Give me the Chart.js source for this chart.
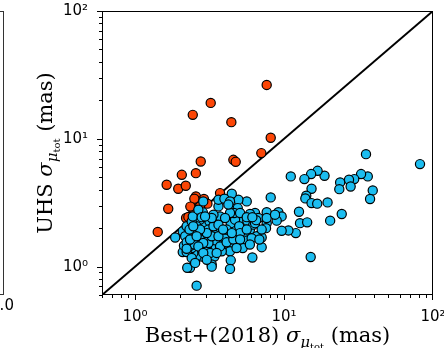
<!DOCTYPE html>
<html>
<head>
<meta charset="utf-8">
<script src="https://cdn.jsdelivr.net/npm/chart.js@4.4.0/dist/chart.umd.min.js"></script>
<style>
  html, body { margin: 0; padding: 0; background: #fff; }
</style>
</head>
<body>
<canvas id="chart" width="444" height="348"></canvas>
<script>
// decade ticks and their labels
const tickValues = [1, 10, 100];
const tickLabels = ['10\u2070', '10\u00b9', '10\u00b2'];

// points above the 1:1 line
const orangeX = [7.65, 3.22, 2.44, 4.43, 8.14, 7.04, 4.57, 4.74, 2.76, 2.56, 2.06, 1.63, 1.95, 2.19,
  1.67, 1.42, 3.72, 2.56, 2.90, 2.59, 3.06, 2.42, 2.73, 2.20, 2.28, 2.50, 2.35];
const orangeY = [26.4, 19.1, 15.4, 13.5, 10.2, 7.73, 6.85, 6.61, 6.65, 5.39, 5.23, 4.37, 4.07, 4.29,
  2.84, 1.87, 3.76, 3.54, 3.38, 3.28, 3.11, 2.87, 2.96, 2.40, 2.45, 3.40, 2.95];

// points below the 1:1 line
const blueX = [81.8, 35.5, 39.4, 37.8, 36.5, 32.9, 29.6, 27.3, 28.0, 23.8, 23.5, 24.4, 20.4, 19.6,
  18.7, 16.8, 15.2, 13.7, 15.3, 14.1, 13.9, 15.3, 16.7, 11.1, 12.6, 12.8, 14.3, 12.0, 10.7, 9.64,
  15.1, 8.14, 9.16, 9.64, 8.93, 7.65, 7.65, 7.57, 7.08, 7.08, 6.13, 6.56, 6.39, 6.73, 5.91, 5.62,
  4.94, 4.46, 4.46, 4.89, 5.12, 5.67, 5.91, 6.22, 5.53, 5.67, 5.28, 4.86, 4.69, 4.39, 4.23, 4.46,
  4.34, 4.39, 4.34, 3.82, 3.88, 4.02, 3.72, 3.53, 3.72, 3.63, 3.63, 3.98, 3.36, 3.44, 3.36, 3.41,
  3.27, 3.27, 3.03, 3.11, 2.95, 2.98, 2.90, 2.85, 2.73, 2.59, 2.46, 2.44, 2.73, 2.70, 2.80, 2.59,
  2.46, 2.40, 2.32, 2.59, 2.34, 2.24, 2.09, 2.22, 2.09, 1.86, 2.22, 2.40, 2.44, 2.66, 2.87, 2.80,
  2.17, 2.32, 2.44, 2.13, 2.50, 2.22, 3.36, 3.16, 3.11, 3.27, 3.63, 4.12, 4.69, 4.62, 5.07, 4.34,
  4.02, 5.00, 6.06, 6.83, 4.34, 4.23, 6.39, 7.08, 7.65, 8.70, 6.50, 3.03, 3.36, 3.72, 2.73, 2.46,
  2.34, 2.87, 3.19, 3.53, 4.12, 4.57, 5.07, 5.62, 5.62, 6.13, 5.07, 4.46, 3.63, 3.27, 2.95, 2.59,
  2.66, 2.87, 2.40, 2.53, 3.90, 4.80, 5.90, 2.22, 3.03];
const blueY = [6.34, 7.59, 3.95, 3.38, 5.08, 5.30, 4.84, 4.78, 4.24, 4.56, 4.04, 2.58, 2.29, 3.18,
  5.14, 5.62, 5.30, 4.84, 4.07, 3.59, 3.42, 3.14, 3.11, 5.08, 2.69, 2.19, 2.22, 1.83, 1.92, 1.91,
  1.19, 3.48, 2.67, 2.47, 2.29, 2.67, 2.19, 2.00, 1.69, 1.42, 1.18, 1.73, 2.63, 2.40, 2.58, 3.24,
  3.34, 3.72, 2.87, 2.87, 2.37, 2.29, 1.95, 2.13, 1.78, 1.60, 1.40, 1.67, 1.95, 2.19, 1.83, 1.49,
  1.32, 1.12, 0.96, 1.32, 1.50, 1.67, 1.95, 2.17, 2.47, 2.96, 3.34, 3.40, 1.80, 1.58, 1.37, 1.20,
  1.04, 1.00, 1.40, 1.53, 1.73, 2.00, 2.22, 2.66, 2.33, 2.07, 1.83, 1.63, 1.63, 1.36, 1.20, 1.20,
  1.28, 1.40, 1.44, 0.71, 0.98, 0.98, 1.30, 1.30, 1.89, 1.69, 2.07, 2.26, 2.47, 2.79, 3.24, 2.44,
  1.73, 1.95, 1.58, 1.46, 1.49, 1.55, 2.55, 2.26, 1.95, 1.73, 1.73, 1.95, 2.33, 2.63, 2.63, 2.63,
  2.40, 2.07, 1.67, 1.63, 3.24, 3.06, 2.19, 1.95, 2.40, 2.55, 2.31, 1.83, 2.07, 1.44, 1.95, 2.07,
  1.63, 1.53, 1.28, 1.28, 1.55, 1.63, 1.83, 1.95, 2.44, 2.44, 1.63, 1.83, 2.13, 2.40, 2.47, 1.73,
  1.44, 1.28, 1.17, 1.07, 1.95, 1.40, 1.49, 1.38, 1.13];

// 1:1 reference line
const lineX = [0.6, 100];
const lineY = [0.6, 100];

const toPoints = (xs, ys) => xs.map((v, i) => ({ x: v, y: ys[i] }));

const SERIF = '"DejaVu Serif"';

// draws a label made of several pieces (for the sub/subscripts)
function drawPieces(ctx, pieces, cx, baseline) {
  let total = 0;
  pieces.forEach(p => { ctx.font = p.f; p.w = ctx.measureText(p.t).width; total += p.w; });
  let x = cx - total / 2;
  ctx.textAlign = 'left';
  ctx.textBaseline = 'alphabetic';
  pieces.forEach(p => {
    ctx.font = p.f;
    ctx.fillText(p.t, x, baseline + p.dy);
    x += p.w;
  });
}

function titlePieces(before) {
  return [
    { t: before, f: '21px ' + SERIF, dy: 0 },
    { t: '\u03c3', f: 'italic 21px ' + SERIF, dy: 0 },
    { t: '\u03bc', f: 'italic 15px ' + SERIF, dy: 5 },
    { t: 'tot', f: '10px ' + SERIF, dy: 8 },
    { t: ' (mas)', f: '21px ' + SERIF, dy: 0 }
  ];
}

const panelPlugin = {
  id: 'panel',
  afterDatasetsDraw(chart) {
    const { ctx, chartArea: a, scales: { x, y } } = chart;
    ctx.save();
    ctx.strokeStyle = '#000';
    ctx.lineWidth = 1;
    ctx.strokeRect(a.left + 0.5, a.top + 0.5, a.right - a.left - 1, a.bottom - a.top - 1);

    // major + minor ticks, outward
    ctx.beginPath();
    [0.1, 1, 10].forEach(d => {
      for (let m = 1; m <= 9; m++) {
        const v = m * d;
        const len = m === 1 ? 5 : 3;
        if (v >= x.min - 1e-9 && v <= x.max + 1e-9) {
          const px = Math.round(x.getPixelForValue(v)) + 0.5;
          ctx.moveTo(px, a.bottom);
          ctx.lineTo(px, a.bottom + len);
        }
        if (v >= y.min - 1e-9 && v <= y.max + 1e-9) {
          const py = Math.round(y.getPixelForValue(v)) + 0.5;
          ctx.moveTo(a.left, py);
          ctx.lineTo(a.left - len, py);
        }
      }
    });
    ctx.moveTo(a.right - 0.5, a.bottom);
    ctx.lineTo(a.right - 0.5, a.bottom + 5);
    ctx.moveTo(a.left, a.top + 0.5);
    ctx.lineTo(a.left - 5, a.top + 0.5);
    ctx.stroke();

    // edge of the neighbouring panel
    ctx.strokeStyle = '#333';
    ctx.strokeRect(-10, a.top + 0.5, 13.5, a.bottom - a.top - 1);
    ctx.fillStyle = '#000';
    ctx.font = '15px "DejaVu Sans"';
    ctx.textAlign = 'center';
    ctx.textBaseline = 'alphabetic';
    ctx.fillText('1.0', 2, 310);

    // axis titles
    ctx.fillStyle = '#000';
    drawPieces(ctx, titlePieces('Best+(2018) '), (a.left + a.right) / 2, 342);
    ctx.translate(52, (a.top + a.bottom) / 2);
    ctx.rotate(-Math.PI / 2);
    drawPieces(ctx, titlePieces('UHS '), 0, 0);
    ctx.restore();
  }
};

const tickOpts = (pad) => ({
  color: '#000',
  font: { family: 'DejaVu Sans', size: 15 },
  autoSkip: false,
  maxRotation: 0,
  padding: pad,
  callback: (v) => tickLabels[tickValues.indexOf(v)] || ''
});

const logAxis = (extra) => Object.assign({
  type: 'logarithmic',
  min: 0.6,
  max: 100,
  grid: { display: false },
  border: { display: false },
  afterBuildTicks: (scale) => { scale.ticks = tickValues.map(v => ({ value: v })); }
}, extra);

new Chart(document.getElementById('chart'), {
  type: 'scatter',
  data: {
    datasets: [
      {
        data: toPoints(blueX, blueY),
        backgroundColor: '#1cbdf0',
        borderColor: '#000',
        borderWidth: 1.2,
        pointRadius: 4.6,
        order: 1
      },
      {
        data: toPoints(orangeX, orangeY),
        backgroundColor: '#fc4606',
        borderColor: '#000',
        borderWidth: 1.2,
        pointRadius: 4.6,
        order: 2
      },
      {
        data: toPoints(lineX, lineY),
        showLine: true,
        borderColor: '#000',
        borderWidth: 2,
        pointRadius: 0,
        order: 3
      }
    ]
  },
  options: {
    responsive: false,
    animation: false,
    layout: { padding: { left: 0, right: 11, top: 11, bottom: 0 } },
    plugins: { legend: { display: false }, tooltip: { enabled: false } },
    scales: {
      x: logAxis({
        position: 'bottom',
        ticks: tickOpts(5),
        afterFit: (s) => { s.height = 53; s.paddingLeft = 0; s.paddingRight = 0; }
      }),
      y: logAxis({
        position: 'left',
        ticks: tickOpts(6),
        afterFit: (s) => { s.width = 102; s.paddingTop = 0; s.paddingBottom = 0; }
      })
    }
  },
  plugins: [panelPlugin]
});
</script>
</body>
</html>
